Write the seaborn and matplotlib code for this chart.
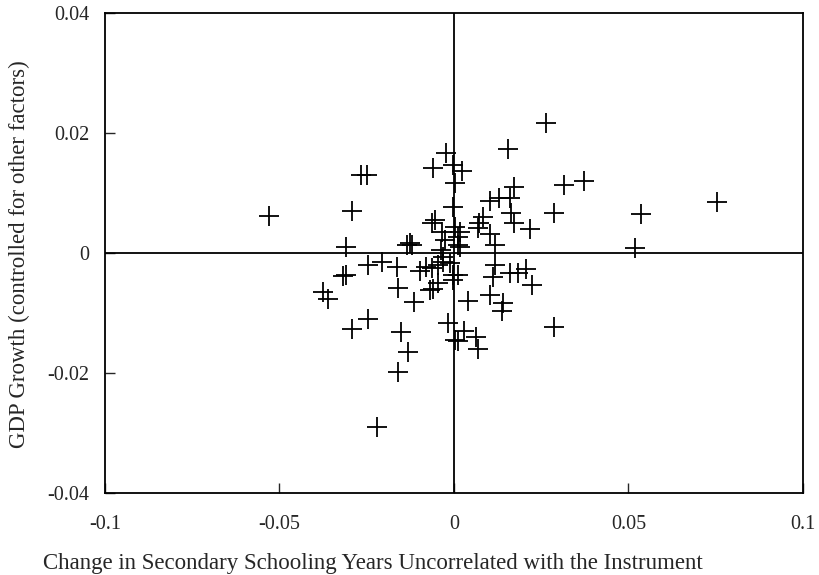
import numpy as np
import pandas as pd
import matplotlib
matplotlib.use("Agg")
import matplotlib.pyplot as plt
import seaborn as sns

# values
schooling_change = [
    -0.0530, -0.0266, -0.0249, -0.0292, -0.0309, -0.0318, -0.0309, -0.0375, -0.0361, -0.0292,
    -0.0246, -0.0246, -0.0206, -0.0163, -0.0160, -0.0115, -0.0152, -0.0132, -0.0160, -0.0221,
    -0.0135, -0.0120, -0.0126, -0.0097, -0.0080, -0.0063, -0.0046, -0.0032, -0.0069, -0.0060,
    -0.0046, -0.0017, 0.0003, -0.0003, -0.0003, -0.0032, -0.0023, -0.0060, -0.0003, 0.0023,
    0.0003, -0.0003, -0.0054, -0.0063, -0.0034, 0.0003, 0.0017, 0.0011, 0.0017, -0.0037,
    -0.0026, 0.0264, 0.0155, 0.0372, 0.0315, 0.0172, 0.0103, 0.0129, 0.0160, 0.0287,
    0.0163, 0.0083, 0.0072, 0.0069, 0.0172, 0.0218, 0.0103, 0.0117, 0.0519, 0.0536,
    0.0754, 0.0117, 0.0112, 0.0160, 0.0183, 0.0206, 0.0224, 0.0103, 0.0040, 0.0140,
    0.0138, 0.0287, 0.0029, 0.0011, 0.0063, 0.0069, 0.0011, -0.0011, 0.0011,
]
gdp_growth = [
    0.0062, 0.0130, 0.0130, 0.0070, 0.0010, -0.0038, -0.0037, -0.0065, -0.0077, -0.0127,
    -0.0110, -0.0020, -0.0015, -0.0023, -0.0058, -0.0082, -0.0132, -0.0165, -0.0198, -0.0290,
    0.0013, 0.0013, 0.0017, -0.0030, -0.0023, -0.0025, -0.0020, -0.0015, -0.0062, -0.0060,
    -0.0050, -0.0117, -0.0145, -0.0037, -0.0045, -0.0007, 0.0167, 0.0142, 0.0147, 0.0137,
    0.0117, 0.0077, 0.0055, 0.0050, 0.0035, 0.0043, 0.0035, 0.0027, 0.0010, 0.0005,
    0.0022, 0.0217, 0.0173, 0.0120, 0.0113, 0.0110, 0.0087, 0.0092, 0.0092, 0.0067,
    0.0067, 0.0060, 0.0050, 0.0042, 0.0050, 0.0040, 0.0032, 0.0013, 0.0008, 0.0065,
    0.0085, -0.0020, -0.0040, -0.0033, -0.0033, -0.0027, -0.0053, -0.0070, -0.0080, -0.0083,
    -0.0097, -0.0123, -0.0130, -0.0147, -0.0140, -0.0160, -0.0037, -0.0017, 0.0013,
]

df = pd.DataFrame({'x': schooling_change, 'y': gdp_growth})

sns.set_style('white')
plt.rcParams['font.family'] = ['Liberation Serif', 'DejaVu Serif']

fig = plt.figure(figsize=(8.2, 5.75), dpi=100)
ax = fig.add_axes([0.128, 0.1426, 0.851, 0.8348])

ax.axhline(0, color='black', linewidth=1.3, zorder=1)
ax.axvline(0, color='black', linewidth=1.3, zorder=1)

sns.scatterplot(x='x', y='y', data=df, marker='+', color='black',
                s=200, linewidth=1.3, ax=ax, zorder=3)

ax.set_xlim(-0.1, 0.1)
ax.set_ylim(-0.04, 0.04)
ax.set_xticks([-0.1, -0.05, 0, 0.05, 0.1])
ax.set_xticklabels(['-0.1', '-0.05', '0', '0.05', '0.1'])
ax.set_yticks([-0.04, -0.02, 0, 0.02, 0.04])
ax.set_yticklabels(['-0.04', '-0.02', '0', '0.02', '0.04'])
ax.tick_params(axis='x', direction='in', length=7, width=1, pad=16, labelsize=14.5,
               bottom=True, top=False)
ax.tick_params(axis='y', direction='in', length=7, width=1, pad=11, labelsize=14.5,
               left=True, right=False)
for sp in ax.spines.values():
    sp.set_color('black')
    sp.set_linewidth(1.3)

ax.set_xlabel('Change in Secondary Schooling Years Uncorrelated with the Instrument',
              fontsize=16.5)
ax.set_ylabel('GDP Growth (controlled for other factors)', fontsize=16.5)
ax.xaxis.set_label_coords(0.384, -0.124)
ax.yaxis.set_label_coords(-0.107, 0.497)

fig.savefig('out.png', dpi=100)
